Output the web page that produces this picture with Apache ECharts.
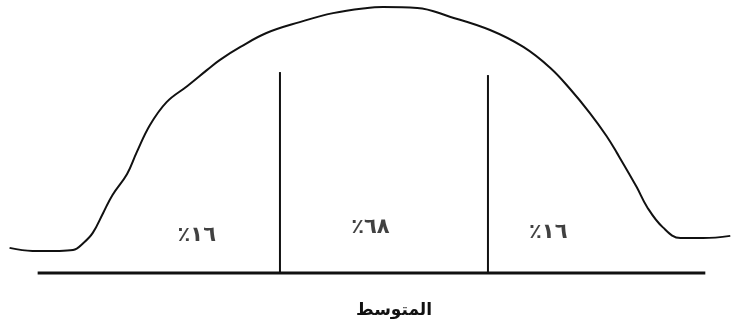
<!DOCTYPE html>
<html>
<head>
<meta charset="utf-8">
<script src="https://cdn.jsdelivr.net/npm/echarts@6/dist/echarts.min.js"></script>
<style>
  html, body { margin: 0; padding: 0; background: #fff; }
  #chart { width: 731px; height: 327px; }
</style>
</head>
<body>
<div id="chart"></div>
<script>
// x in standard deviations from the mean, y is curve height (0 = baseline)
const curveX = [-3.6, -3.38, -3.12, -2.99, -2.89, -2.8, -2.7, -2.61, -2.47, -2.38,
  -2.25, -2.09, -1.89, -1.7, -1.58, -1.38, -1.13, -0.81, -0.49, -0.16,
  -0.01, 0.32, 0.64, 1.02, 1.34, 1.6, 1.79, 1.98, 2.14, 2.24,
  2.43, 2.53, 2.68, 2.85, 3.07, 3.33];
const curveY = [9.2, 8.1, 8.1, 8.4, 11.0, 14.7, 22.0, 28.6, 36.3, 44.0,
  54.2, 62.6, 68.5, 74.4, 78.0, 82.8, 87.9, 91.9, 95.2, 97.1,
  97.4, 97.1, 93.8, 89.0, 82.8, 75.1, 67.4, 58.6, 50.2, 44.0,
  31.5, 24.2, 16.8, 12.8, 12.8, 13.6];

const baseX = [-3.33, 3.09];
const dividerX = [-1, 1];
const dividerTop = [73.6, 72.5];

const shareLabels = ["٪١٦", "٪٦٨", "٪١٦"];
const shareX = [-1.8, -0.13, 1.58];
const shareY = [13.9, 16.5, 15.0];

const meanLabel = "المتوسط";

const ink = "#111";
const chart = echarts.init(document.getElementById("chart"));

const dividerSeries = dividerX.map((x, i) => ({
  type: "line",
  data: [[x, 0], [x, dividerTop[i]]],
  symbol: "none",
  lineStyle: { color: ink, width: 2 },
  silent: true,
}));

chart.setOption({
  animation: false,
  title: {
    text: meanLabel,
    left: 389,
    top: 297,
    textAlign: "center",
    textStyle: { fontFamily: "DejaVu Sans", fontSize: 17, fontWeight: "bold", color: ink },
  },
  grid: { left: 0, right: 0, top: 0, bottom: 0 },
  xAxis: { type: "value", min: -3.692, max: 3.337, show: false },
  yAxis: { type: "value", min: -19.78, max: 100, show: false },
  series: [
    {
      type: "line",
      data: curveX.map((x, i) => [x, curveY[i]]),
      smooth: 0.4,
      symbol: "none",
      lineStyle: { color: ink, width: 2 },
    },
    {
      type: "line",
      data: baseX.map((x) => [x, 0]),
      symbol: "none",
      lineStyle: { color: ink, width: 3 },
    },
    ...dividerSeries,
    {
      type: "scatter",
      symbolSize: 0,
      data: shareX.map((x, i) => [x, shareY[i]]),
      label: {
        show: true,
        position: "inside",
        formatter: (p) => shareLabels[p.dataIndex],
        fontFamily: "DejaVu Sans",
        fontSize: 21,
        fontWeight: "bold",
        color: ink,
      },
    },
  ],
});
</script>
</body>
</html>
